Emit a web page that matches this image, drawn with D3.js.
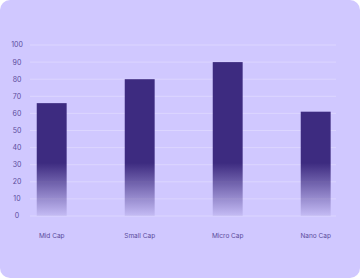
<!DOCTYPE html>
<html>
<head>
<meta charset="utf-8">
<script src="https://cdn.jsdelivr.net/npm/d3@7"></script>
<style>
  html, body { margin: 0; padding: 0; background: #ffffff; }
  svg { display: block; font-family: Inter, "Open Sans", sans-serif; }
</style>
</head>
<body>
<div id="chart"></div>
<script>
var categories = ["Mid Cap", "Small Cap", "Micro Cap", "Nano Cap"];
var values = [66, 80, 90, 61];
var yTicks = [0, 10, 20, 30, 40, 50, 60, 70, 80, 90, 100];

var width = 360, height = 278;

var svg = d3.select("#chart").append("svg")
  .attr("width", width)
  .attr("height", height);

svg.append("rect")
  .attr("width", width)
  .attr("height", height)
  .attr("rx", 10)
  .attr("fill", "#d0c8ff");

var y = d3.scaleLinear().domain([0, 100]).range([216, 45]);
var x = d3.scaleBand().domain(categories).range([7.7, 359.7]).paddingInner(0.66).paddingOuter(0.33);

var defs = svg.append("defs");
var grad = defs.append("linearGradient")
  .attr("id", "barFade")
  .attr("gradientUnits", "userSpaceOnUse")
  .attr("x1", 0).attr("x2", 0)
  .attr("y1", y(31)).attr("y2", y(0));
grad.append("stop").attr("offset", "0%").attr("stop-color", "#3d2b80");
grad.append("stop").attr("offset", "100%").attr("stop-color", "#3d2b80").attr("stop-opacity", 0.08);

// grid
svg.append("g")
  .selectAll("line")
  .data(yTicks)
  .join("line")
  .attr("x1", 30).attr("x2", 336)
  .attr("y1", function (d) { return y(d); })
  .attr("y2", function (d) { return y(d); })
  .attr("stroke", "#dcd6ff")
  .attr("stroke-width", 1);

// y labels
svg.append("g")
  .selectAll("text")
  .data(yTicks)
  .join("text")
  .attr("x", 17)
  .attr("y", function (d) { return y(d); })
  .attr("dy", "0.35em")
  .attr("text-anchor", "middle")
  .attr("font-size", 7)
  .attr("fill", "#5b4c9c")
  .text(function (d) { return d; });

// bars
svg.append("g")
  .selectAll("rect")
  .data(values)
  .join("rect")
  .attr("x", function (d, i) { return x(categories[i]); })
  .attr("width", x.bandwidth())
  .attr("y", function (d) { return y(d); })
  .attr("height", function (d) { return y(0) - y(d); })
  .attr("fill", "url(#barFade)");

// x labels
svg.append("g")
  .selectAll("text")
  .data(categories)
  .join("text")
  .attr("x", function (d) { return x(d) + x.bandwidth() / 2; })
  .attr("y", 236)
  .attr("dy", "0.35em")
  .attr("text-anchor", "middle")
  .attr("font-size", 6.5)
  .attr("fill", "#5b4c9c")
  .text(function (d) { return d; });
</script>
</body>
</html>
